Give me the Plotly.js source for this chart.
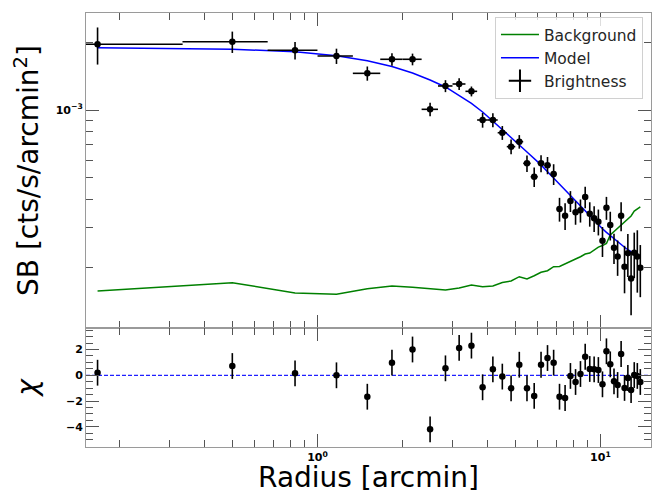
<!DOCTYPE html>
<html><head><meta charset="utf-8">
<script src="https://cdn.plot.ly/plotly-3.0.1.min.js"></script>
<style>html,body{margin:0;padding:0;background:#fff;}#chart{width:658px;height:494px;}</style>
</head><body><div id="chart"></div>
<script>
// ---- data ----
const radius = [0.167,0.5,0.833,1.167,1.5,1.833,2.167,2.5,2.833,3.167,3.5,3.833,4.167,4.5,4.833,5.167,5.5,5.833,6.167,6.5,6.833,7.167,7.5,7.833,8.167,8.5,8.833,9.167,9.5,9.833,10.167,10.5,10.833,11.167,11.5,11.833,12.167,12.5,12.833,13.167,13.5,13.833];
const radiusErr = [0.1667,0.1667,0.1667,0.1667,0.1667,0.1667,0.1667,0.1667,0.1667,0.1667,0.1667,0.1667,0.1667,0.1667,0.1667,0.1667,0.1667,0.1667,0.1667,0.1667,0.1667,0.1667,0.1667,0.1667,0.1667,0.1667,0.1667,0.1667,0.1667,0.1667,0.1667,0.1667,0.1667,0.1667,0.1667,0.1667,0.1667,0.1667,0.1667,0.1667,0.1667,0.1667];
const brightness = [1.956e-3,2.008e-3,1.839e-3,1.735e-3,1.454e-3,1.678e-3,1.678e-3,1.007e-3,1.278e-3,1.304e-3,1.210e-3,0.903e-3,0.903e-3,0.793e-3,0.688e-3,0.724e-3,0.580e-3,0.506e-3,0.580e-3,0.569e-3,0.520e-3,0.364e-3,0.340e-3,0.395e-3,0.352e-3,0.359e-3,0.412e-3,0.347e-3,0.331e-3,0.320e-3,0.263e-3,0.369e-3,0.309e-3,0.245e-3,0.224e-3,0.340e-3,0.202e-3,0.232e-3,0.179e-3,0.233e-3,0.224e-3,0.200e-3];
const brightnessErr = [0.366e-3,0.218e-3,0.165e-3,0.135e-3,0.105e-3,0.108e-3,0.100e-3,0.069e-3,0.078e-3,0.078e-3,0.061e-3,0.068e-3,0.065e-3,0.056e-3,0.052e-3,0.050e-3,0.049e-3,0.050e-3,0.050e-3,0.050e-3,0.055e-3,0.044e-3,0.046e-3,0.042e-3,0.042e-3,0.042e-3,0.045e-3,0.043e-3,0.043e-3,0.042e-3,0.040e-3,0.043e-3,0.045e-3,0.0375e-3,0.040e-3,0.050e-3,0.048e-3,0.050e-3,0.056e-3,0.053e-3,0.069e-3,0.052e-3];
const model = [1.888e-3,1.858e-3,1.814e-3,1.741e-3,1.654e-3,1.559e-3,1.459e-3,1.359e-3,1.265e-3,1.160e-3,1.069e-3,0.980e-3,0.894e-3,0.815e-3,0.755e-3,0.700e-3,0.651e-3,0.610e-3,0.571e-3,0.533e-3,0.499e-3,0.4684e-3,0.4410e-3,0.4165e-3,0.3946e-3,0.3746e-3,0.3559e-3,0.3393e-3,0.3241e-3,0.3101e-3,0.2974e-3,0.2867e-3,0.2772e-3,0.2686e-3,0.2605e-3,0.2531e-3,0.2464e-3,0.2402e-3,0.2358e-3,0.2309e-3,0.2264e-3,0.2221e-3];
const background = [0.1576e-3,0.1716e-3,0.1544e-3,0.1524e-3,0.1614e-3,0.1659e-3,0.1637e-3,0.1609e-3,0.1593e-3,0.1626e-3,0.1676e-3,0.1647e-3,0.1659e-3,0.1720e-3,0.1746e-3,0.1824e-3,0.1781e-3,0.1843e-3,0.1908e-3,0.1939e-3,0.2020e-3,0.2024e-3,0.2076e-3,0.2119e-3,0.2185e-3,0.2237e-3,0.2299e-3,0.2323e-3,0.2395e-3,0.2469e-3,0.2507e-3,0.2559e-3,0.2793e-3,0.2893e-3,0.2998e-3,0.3092e-3,0.3188e-3,0.3287e-3,0.3390e-3,0.3566e-3,0.3640e-3,0.3716e-3];
const chi = [0.2,0.72,0.15,0.0,-1.66,0.98,2.0,-4.19,0.54,2.12,2.3,-0.93,0.46,-0.1,-1.01,0.82,-1.01,-1.6,0.82,1.34,0.98,-1.66,-1.76,-0.05,-0.52,0.1,1.44,0.49,0.46,0.41,-0.7,1.86,0.85,-0.47,-0.75,1.65,-0.98,-0.21,-1.14,0.02,-0.05,-0.52];
const chiErr = [1,1,1,1,1,1,1,1,1,1,1,1,1,1,1,1,1,1,1,1,1,1,1,1,1,1,1,1,1,1,1,1,1,1,1,1,1,1,1,1,1,1];
const zeroLevel = 0;

const xMajorVals = [1, 10];
const xMajorText = ['10<sup>0</sup>', '10<sup>1</sup>'];
const xMinorVals = [0.2,0.3,0.4,0.5,0.6,0.7,0.8,0.9,2,3,4,5,6,7,8,9];
const yMajorVals = [1e-3];
const yMajorText = ['10<sup>\u22123</sup>'];
const yMinorVals = [2e-4,3e-4,4e-4,5e-4,6e-4,7e-4,8e-4,9e-4,2e-3];
const chiTickVals = [-4,-2,0,2];
const chiTickText = ['\u22124','\u22122','0','2'];

// ---- styling ----
const lineCol = '#9a9a9a', tickCol = '#555555';
const tickFont = {family:'DejaVu Sans', size:11, color:'#000', weight:'bold'};
const titleFont = {family:'DejaVu Sans', size:28, color:'#000'};
const xRange = [Math.log10(0.152), Math.log10(15.09)];
const splitFrac = 0.2742;

function baseAxis(extra){
  return Object.assign({
    showline:true, linecolor:lineCol, linewidth:1, mirror:'allticks',
    ticks:'inside', ticklen:13, tickwidth:1, tickcolor:tickCol,
    showgrid:false, zeroline:false, tickfont:tickFont
  }, extra);
}
const minorCfg = (vals) => ({tickmode:'array', tickvals:vals, ticks:'inside', ticklen:7, tickwidth:1, tickcolor:tickCol, showgrid:false});

const traces = [
  {x:radius, y:background, mode:'lines', name:'Background', line:{color:'#008000', width:1.5}, xaxis:'x', yaxis:'y'},
  {x:radius, y:model, mode:'lines', name:'Model', line:{color:'#0000ff', width:1.5}, xaxis:'x', yaxis:'y'},
  {x:[null], y:[null], mode:'markers', name:'Brightness', marker:{symbol:'cross-thin', size:16, color:'#000', line:{width:2, color:'#000'}}, xaxis:'x', yaxis:'y'},
  {x:radius, y:brightness, mode:'markers', showlegend:false, marker:{color:'#000', size:6.5},
   error_x:{type:'data', array:radiusErr, color:'#000', thickness:1.6, width:0},
   error_y:{type:'data', array:brightnessErr, color:'#000', thickness:1.6, width:0}, xaxis:'x', yaxis:'y'},
  {x:radius, y:chi, mode:'markers', showlegend:false, marker:{color:'#000', size:6.5},
   error_y:{type:'data', array:chiErr, color:'#000', thickness:1.6, width:0}, xaxis:'x2', yaxis:'y2'}
];

const layout = {
  width:658, height:494,
  margin:{l:86, r:7, t:13, b:47},
  paper_bgcolor:'#fff', plot_bgcolor:'#fff',
  font:{family:'DejaVu Sans', color:'#000'},
  showlegend:true,
  legend:{x:0.9858, xanchor:'right', y:0.991, yanchor:'top',
    bgcolor:'rgba(255,255,255,0.8)', bordercolor:'#d0d0d0', borderwidth:1,
    font:{family:'DejaVu Sans', size:15.5, color:'#262626'}, itemwidth:38, tracegroupgap:0},
  xaxis: baseAxis({type:'log', range:xRange, anchor:'y', showticklabels:false,
    tickmode:'array', tickvals:xMajorVals, ticktext:xMajorText, minor:minorCfg(xMinorVals)}),
  xaxis2: baseAxis({type:'log', range:xRange, anchor:'y2',
    tickmode:'array', tickvals:xMajorVals, ticktext:xMajorText, minor:minorCfg(xMinorVals),
    title:{text:'Radius [arcmin]', font:titleFont, standoff:6}}),
  yaxis: baseAxis({type:'log', domain:[splitFrac,1], range:[-3.9663,-2.570], anchor:'x',
    tickmode:'array', tickvals:yMajorVals, ticktext:yMajorText, minor:minorCfg(yMinorVals),
    title:{text:'SB [cts/s/arcmin<sup>2</sup>]', font:titleFont, standoff:8}}),
  yaxis2: baseAxis({domain:[0,splitFrac], range:[-5.558,3.667], anchor:'x2',
    tickmode:'array', tickvals:chiTickVals, ticktext:chiTickText,
    minor:{tickmode:'linear', tick0:0, dtick:0.5, ticks:'inside', ticklen:7, tickwidth:1, tickcolor:tickCol, showgrid:false},
    title:{text:'<i>\u03c7</i>', font:titleFont, standoff:20}}),
  shapes:[{type:'line', xref:'x2 domain', x0:0, x1:1, yref:'y2', y0:zeroLevel, y1:zeroLevel,
    line:{color:'#2020ff', width:1.3, dash:'4px,2px'}, layer:'below'}]
};

Plotly.newPlot('chart', traces, layout, {displayModeBar:false, staticPlot:true});
</script>
</body></html>
